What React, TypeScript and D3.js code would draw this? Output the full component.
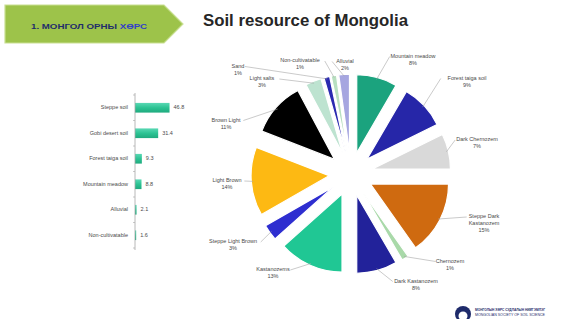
import React from "react";
import * as d3 from "d3";

const W = 562;
const H = 319;

// ---- Data ----
const barCategories = [
  "Steppe soil",
  "Gobi desert soil",
  "Forest taiga soil",
  "Mountain meadow",
  "Alluvial",
  "Non-cultivatable",
];
const barValues = [46.8, 31.4, 9.3, 8.8, 2.1, 1.6];

const pieCategories = [
  "Mountain meadow",
  "Forest taiga soil",
  "Dark Chernozem",
  "Steppe Dark\nKastanozem",
  "Chernozem",
  "Dark Kastanozem",
  "Kastanozems",
  "Steppe Light Brown",
  "Light Brown",
  "Brown Light",
  "Light salts",
  "Sand",
  "Non-cultivatable",
  "Alluvial",
];
const pieValues = [8.4, 9.3, 7.3, 15.2, 1.4, 8.4, 13.4, 3.3, 14.2, 11.3, 3.3, 1.2, 1.1, 2.2];
const pieColors = [
  "#1ba37e",
  "#2626a8",
  "#d9d9d9",
  "#cf6a10",
  "#a9d9a9",
  "#22229a",
  "#20c794",
  "#2e2ed0",
  "#fdb913",
  "#000000",
  "#bde3d0",
  "#2a2ab0",
  "#b8e0c0",
  "#a6a6e0",
];

// ---- Layout (label block centres, not data) ----
const pieLabelPos: [number, number][] = [
  [413, 60],
  [467, 82],
  [477, 143.5],
  [484, 224],
  [450, 265],
  [416, 285],
  [273, 273.5],
  [233, 245.5],
  [227, 184.5],
  [226, 124],
  [262, 82.5],
  [238, 70],
  [300, 64.5],
  [345, 65],
];

const cx = 351;
const cy = 174;
const R = 78;
const EXPLODE = 22;
const LFS = 5.5;
const LH = 7;

function PieChart() {
  const pie = d3
    .pie<number>()
    .sort(null)
    .value((d) => d)
    .startAngle(0)
    .endAngle(Math.PI * 2);
  const arcs = pie(pieValues);
  const arc = d3.arc<d3.PieArcDatum<number>>().innerRadius(0).outerRadius(R);
  const total = d3.sum(pieValues);

  return (
    <g>
      {arcs.map((a, i) => {
        const m = (a.startAngle + a.endAngle) / 2;
        const dx = EXPLODE * Math.sin(m);
        const dy = -EXPLODE * Math.cos(m);
        return (
          <path
            key={"s" + i}
            d={arc(a) || ""}
            transform={`translate(${cx + dx},${cy + dy})`}
            fill={pieColors[i]}
            stroke="#ffffff"
            strokeWidth={1.2}
          />
        );
      })}
      {arcs.map((a, i) => {
        const m = (a.startAngle + a.endAngle) / 2;
        const px = cx + (EXPLODE + R - 2) * Math.sin(m);
        const py = cy - (EXPLODE + R - 2) * Math.cos(m);
        const lines = pieCategories[i].split("\n");
        const pct = Math.round((pieValues[i] / total) * 100) + "%";
        const all = [...lines, pct];
        const [lx, ly] = pieLabelPos[i];
        const maxLen = d3.max(all, (s) => s.length) || 1;
        const hw = maxLen * LFS * 0.27;
        const top = ly - ((all.length - 1) * LH) / 2;
        const ex = lx > px ? lx - hw - 1 : lx + hw + 1;
        const ey = top;
        return (
          <g key={"l" + i}>
            <polyline
              points={`${px},${py} ${ex},${ey}`}
              fill="none"
              stroke="#a6a6a6"
              strokeWidth={0.6}
            />
            {all.map((s, j) => (
              <text
                key={j}
                x={lx}
                y={top + j * LH}
                textAnchor="middle"
                dominantBaseline="middle"
                fontFamily="Liberation Sans, Arial, sans-serif"
                fontSize={LFS}
                fill="#4a4a4a"
              >
                {s}
              </text>
            ))}
          </g>
        );
      })}
    </g>
  );
}

function BarChart() {
  const x0 = 135;
  const x = d3.scaleLinear().domain([0, 50]).range([x0, x0 + 36.9]);
  const y = d3.scaleBand<string>().domain(barCategories).range([95, 248]).paddingInner(0.62).paddingOuter(0.31);
  return (
    <g>
      <defs>
        <linearGradient id="barGrad" x1="0" y1="0" x2="0" y2="1">
          <stop offset="0" stopColor="#5ad8b4" />
          <stop offset="0.5" stopColor="#2cc393" />
          <stop offset="1" stopColor="#1faa7e" />
        </linearGradient>
      </defs>
      {barCategories.map((c, i) => (
        <g key={c}>
          <rect
            x={x(0)}
            y={y(c)!}
            width={Math.max(1, x(barValues[i]) - x(0))}
            height={y.bandwidth()}
            fill="url(#barGrad)"
          />
          <text
            x={x0 - 7}
            y={y(c)! + y.bandwidth() / 2}
            textAnchor="end"
            dominantBaseline="middle"
            fontFamily="Liberation Sans, Arial, sans-serif"
            fontSize={5.5}
            fill="#4a4a4a"
          >
            {c}
          </text>
          <text
            x={x(barValues[i]) + 4}
            y={y(c)! + y.bandwidth() / 2}
            dominantBaseline="middle"
            fontFamily="Liberation Sans, Arial, sans-serif"
            fontSize={5.5}
            fill="#4a4a4a"
          >
            {barValues[i].toFixed(1)}
          </text>
        </g>
      ))}
      <line x1={x0} x2={x0} y1={93} y2={250} stroke="#a6a6a6" strokeWidth={0.8} />
      {d3.range(barCategories.length + 1).map((k) => {
        const yy = 95 + (k * (248 - 95)) / barCategories.length;
        return <line key={k} x1={x0 - 2} x2={x0} y1={yy} y2={yy} stroke="#a6a6a6" strokeWidth={0.6} />;
      })}
    </g>
  );
}

export default function App() {
  return (
    <svg
      width={W}
      height={H}
      viewBox={`0 0 ${W} ${H}`}
      style={{ position: "absolute", left: 0, top: 0, display: "block", background: "#ffffff" }}
    >
      <rect x={0} y={0} width={W} height={H} fill="#ffffff" />
      {/* banner */}
      <path d="M5,5 L164,5 L183,24 L164,43 L5,43 Z" fill="#9dc34a" stroke="#c9df92" strokeWidth={1.2} />
      <text
        x={31}
        y={27}
        dominantBaseline="middle"
        fontFamily="Liberation Sans, Arial, sans-serif"
        fontWeight="bold"
        fontSize={7}
        fill="#1f2d6b"
        textLength={116}
        lengthAdjust="spacingAndGlyphs"
      >
        1. МОНГОЛ ОРНЫ <tspan fill="#3140c8">ХӨРС</tspan>
      </text>
      {/* title */}
      <text
        x={203}
        y={22}
        dominantBaseline="middle"
        fontFamily="Liberation Sans, Arial, sans-serif"
        fontWeight="bold"
        fontSize={16}
        fill="#262626"
        textLength={205}
        lengthAdjust="spacingAndGlyphs"
      >
        Soil resource of Mongolia
      </text>
      <BarChart />
      <PieChart />
      {/* logo */}
      <circle cx={463} cy={314} r={8} fill="#1e2a6a" />
      <circle cx={463} cy={316} r={4.5} fill="#ffffff" />
      <text x={475} y={311} fontFamily="Liberation Sans, Arial, sans-serif" fontSize={3.5} fontWeight="bold" fill="#1e2a6a" textLength={70} lengthAdjust="spacingAndGlyphs">
        МОНГОЛЫН ХӨРС СУДЛАЛЫН НИЙГЭМЛЭГ
      </text>
      <text x={475} y={316} fontFamily="Liberation Sans, Arial, sans-serif" fontSize={3} fill="#1e2a6a" textLength={70} lengthAdjust="spacingAndGlyphs">
        MONGOLIAN SOCIETY OF SOIL SCIENCE
      </text>
    </svg>
  );
}
